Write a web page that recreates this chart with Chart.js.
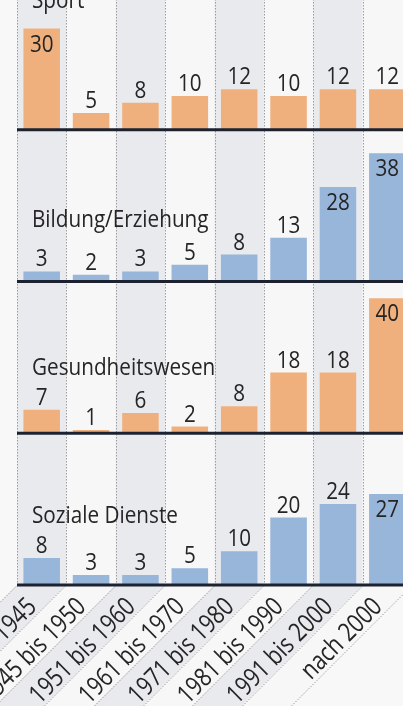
<!DOCTYPE html>
<html>
<head>
<meta charset="utf-8">
<script src="https://cdn.jsdelivr.net/npm/chart.js@4/dist/chart.umd.min.js"></script>
<style>
  html, body { margin: 0; padding: 0; overflow: hidden; background: #f8f8f8; }
  body { width: 403px; height: 706px; position: relative; }
  #chart { position: absolute; left: 0; top: -30px; }
</style>
</head>
<body>
<canvas id="chart" width="412" height="736"></canvas>
<script>
// --- Daten ---
const categories = ['bis 1945', '1945 bis 1950', '1951 bis 1960', '1961 bis 1970',
  '1971 bis 1980', '1981 bis 1990', '1991 bis 2000', 'nach 2000'];
const panelNames = ['Sport', 'Bildung/Erziehung', 'Gesundheitswesen', 'Soziale Dienste'];
const sport = [30, 5, 8, 10, 12, 10, 12, 12];
const bildung = [3, 2, 3, 5, 8, 13, 28, 38];
const gesundheit = [7, 1, 6, 2, 8, 18, 18, 40];
const sozialeDienste = [8, 3, 3, 5, 10, 20, 24, 27];

const ORANGE = '#efb07e';
const BLUE = '#98b5da';
const FAMILY = "'Open Sans', 'Noto Sans', sans-serif";
const TEXT = '#252525';

const series = [sport, bildung, gesundheit, sozialeDienste];
const colors = [ORANGE, BLUE, ORANGE, BLUE];
const axisIds = ['ySport', 'yBildung', 'yGesund', 'ySozial'];
// Höhe (in Werteinheiten) der Titel-Grundlinie je Panel
const titleLevel = [36, 16.3, 17.3, 18.4];

// Schrift schmal zeichnen (horizontal gestaucht, wie eine Condensed-Schrift)
function narrowText(ctx, text, x, y, sx, align) {
  ctx.save();
  ctx.translate(x, y);
  ctx.scale(sx, 1);
  ctx.textAlign = align;
  ctx.fillText(text, 0, 0);
  ctx.restore();
}

// Hintergrund: abwechselnde Spalten, gepunktete Trennlinien, schräge Bänder unter der Achse
const backgroundPlugin = {
  id: 'columns',
  beforeDraw(chart) {
    const { ctx, chartArea } = chart;
    const x = chart.scales.x;
    const n = categories.length;
    const w = x.getPixelForValue(1) - x.getPixelForValue(0);
    const bottom = chartArea.bottom;
    const D = 160;
    ctx.save();
    for (let i = 0; i < n; i++) {
      const left = x.getPixelForValue(i) - w / 2;
      const right = left + w;
      ctx.fillStyle = i % 2 === 0 ? '#e9eaee' : '#f7f7f7';
      ctx.fillRect(left, chartArea.top, w, bottom - chartArea.top);
      ctx.beginPath();
      ctx.moveTo(left, bottom);
      ctx.lineTo(right, bottom);
      ctx.lineTo(right - D, bottom + D);
      ctx.lineTo(left - D, bottom + D);
      ctx.closePath();
      ctx.fill();
    }
    ctx.strokeStyle = '#9c9c9c';
    ctx.lineWidth = 1;
    ctx.setLineDash([1.5, 1.5]);
    for (let i = 0; i <= n; i++) {
      const bx = Math.round(x.getPixelForValue(i) - w / 2) + 0.5;
      ctx.beginPath();
      ctx.moveTo(bx, chartArea.top);
      ctx.lineTo(bx, bottom);
      ctx.lineTo(bx - D, bottom + D);
      ctx.stroke();
    }
    ctx.restore();
  },
  afterDatasetsDraw(chart) {
    const { ctx, chartArea } = chart;
    const x = chart.scales.x;
    ctx.save();
    ctx.fillStyle = TEXT;
    ctx.textBaseline = 'alphabetic';
    axisIds.forEach((id, p) => {
      const y = chart.scales[id];
      const base = y.getPixelForValue(0);
      // Grundlinie
      ctx.strokeStyle = '#1c2230';
      ctx.lineWidth = 3;
      ctx.beginPath();
      ctx.moveTo(chartArea.left, base);
      ctx.lineTo(chartArea.right, base);
      ctx.stroke();

      // Panel-Titel
      ctx.font = '23px ' + FAMILY;
      narrowText(ctx, panelNames[p], chartArea.left + 15, y.getPixelForValue(titleLevel[p]), 0.9, 'left');

      // Werte
      ctx.font = '24px ' + FAMILY;
      const meta = chart.getDatasetMeta(p);
      meta.data.forEach((bar, i) => {
        const v = series[p][i];
        const ty = v > 25 ? bar.y + 23 : bar.y - 5;
        narrowText(ctx, String(v), bar.x, ty, 0.86, 'center');
      });
    });

    // Kategorien, schräg unter der Achse
    ctx.font = '26px ' + FAMILY;
    categories.forEach((label, i) => {
      ctx.save();
      ctx.translate(x.getPixelForValue(i) - 17, chartArea.bottom + 10);
      ctx.rotate(-Math.PI / 4);
      ctx.scale(0.82, 1);
      ctx.textAlign = 'right';
      ctx.fillText(label, 0, 18.5);
      ctx.restore();
    });
    ctx.restore();
  }
};

const yScale = (weight) => ({
  type: 'linear',
  display: false,
  min: 0,
  max: 45,
  stack: 'panels',
  stackWeight: 1,
  weight: weight
});

new Chart(document.getElementById('chart'), {
  type: 'bar',
  data: {
    labels: categories,
    datasets: series.map((values, p) => ({
      label: panelNames[p],
      data: values,
      yAxisID: axisIds[p],
      backgroundColor: colors[p],
      borderWidth: 0,
      grouped: false,
      categoryPercentage: 1,
      barPercentage: 0.74
    }))
  },
  options: {
    responsive: false,
    animation: false,
    devicePixelRatio: 1,
    layout: { padding: { top: 8, left: 17, right: 0, bottom: 0 } },
    plugins: { legend: { display: false }, tooltip: { enabled: false } },
    scales: {
      x: {
        type: 'category',
        grid: { display: false },
        border: { display: false },
        ticks: { display: false },
        afterFit: (scale) => {
          scale.height = 121;
          scale.paddingLeft = 0;
          scale.paddingRight = 0;
        }
      },
      ySport: yScale(4),
      yBildung: yScale(3),
      yGesund: yScale(2),
      ySozial: yScale(1)
    }
  },
  plugins: [backgroundPlugin]
});
</script>
</body>
</html>
